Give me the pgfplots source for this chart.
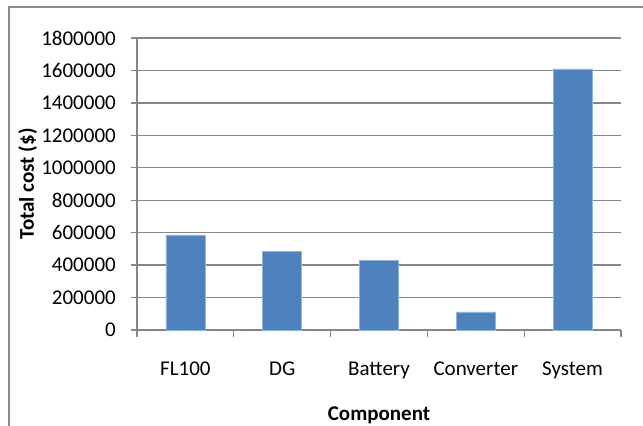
\documentclass[border=0pt]{standalone}
\usepackage{fontspec}
\setmainfont{Carlito}
\usepackage{pgfplots}
\pgfplotsset{compat=1.18}
\definecolor{barblue}{HTML}{4F81BD}
\definecolor{bareedge}{HTML}{8EB4E3}
\definecolor{gridgray}{HTML}{868686}
\definecolor{framegray}{HTML}{8C8C8C}
\newcommand{\chartfont}{\fontsize{21bp}{25bp}\selectfont}
\begin{document}
\begin{tikzpicture}
\useasboundingbox (0,0) rectangle (643bp,426bp);
\fill[white] (0,0) rectangle (643bp,426bp);
\draw[framegray, line width=2bp] (9bp,0) -- (9bp,419bp) -- (643bp,419bp);
\begin{axis}[
  at={(137bp,96bp)}, anchor=south west,
  scale only axis, width=484bp, height=292bp,
  xmin=-0.5, xmax=4.5, ymin=0, ymax=1800000,
  axis x line=bottom, axis y line=left,
  axis line style={gridgray, line width=1.3bp, -},
  xtick={0,1,2,3,4},
  xticklabels={FL100,DG,Battery,Converter,System},
  minor xtick={-0.5,0.5,1.5,2.5,3.5,4.5},
  ytick={0,200000,400000,600000,800000,1000000,1200000,1400000,1600000,1800000},
  scaled y ticks=false,
  yticklabel={\pgfmathprintnumber[fixed,precision=0,1000 sep={}]{\tick}},
  /pgf/number format/assume math mode=true,
  tick align=outside,
  major tick length=6bp, minor tick length=7bp,
  major x tick style={draw=none},
  every tick/.style={gridgray, line width=1.3bp},
  minor tick style={gridgray, line width=1.3bp},
  ymajorgrids,
  major grid style={gridgray, line width=1.3bp},
  tick label style={font=\chartfont, text=black},
  yticklabel style={anchor=east, inner sep=0pt, xshift=-15bp},
  xticklabel style={anchor=base, inner sep=0pt, yshift=-39bp},
  ylabel={Total cost (\$)},
  xlabel={Component},
  label style={font=\chartfont\bfseries, text=black},
  ylabel style={at={(axis description cs:0,0.5)}, anchor=base, yshift=103bp},
  xlabel style={at={(axis description cs:0.5,0)}, anchor=base, yshift=-90bp},
  clip=false,
]
\addplot[ybar, bar width=39bp, fill=barblue, draw=bareedge, line width=0.6bp]
  coordinates {(0,586000) (1,483000) (2,430000) (3,111000) (4,1609000)};
\end{axis}
\end{tikzpicture}
\end{document}
